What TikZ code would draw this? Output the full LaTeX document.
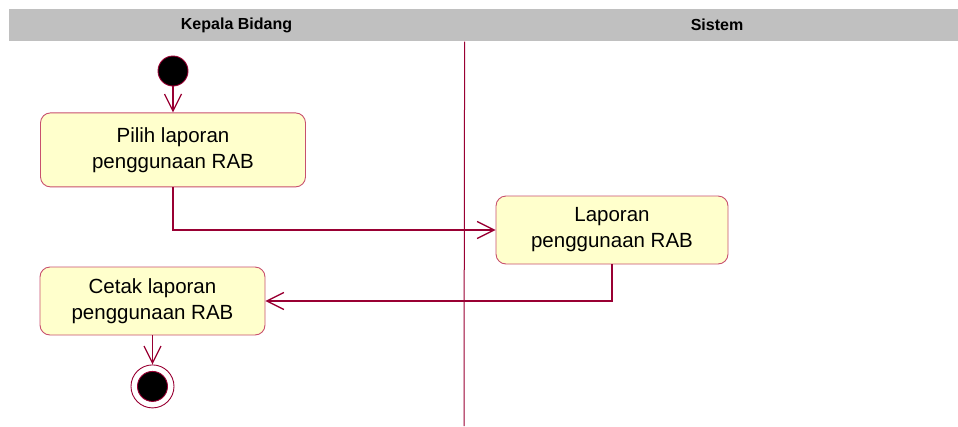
\documentclass[tikz,border=0pt]{standalone}
\usepackage{fontspec}
\setmainfont{Liberation Sans}
\usetikzlibrary{arrows.meta, positioning}
\definecolor{cline}{HTML}{990033}
\definecolor{cedge}{HTML}{C8506E}
\definecolor{cfill}{HTML}{FFFFCC}
\definecolor{cband}{HTML}{C0C0C0}
\tikzset{
  every picture/.style={x=1pt, y=-1pt, line width=1.2pt},
  lane/.style={fill=cband, minimum height=32pt, inner sep=0pt, font=\fontsize{16}{19}\selectfont\bfseries},
  act/.style={draw=cedge, fill=cfill, rounded corners=10pt, align=center, inner sep=0pt, line width=0.9pt, font=\fontsize{20.5}{26}\selectfont},
  flow/.style={-{Straight Barb[length=17pt, width=17pt]}, draw=cline, line width=1.3pt},
  startdot/.style={circle, fill=black, draw=cline, line width=0.9pt, minimum size=30pt, inner sep=0pt},
  enddot/.style={circle, draw=cline, fill=white, line width=0.9pt, minimum size=43pt, inner sep=0pt},
}

\begin{document}
\begin{tikzpicture}
  \useasboundingbox (0,0) rectangle (958,426);
  \node[lane, minimum width=455pt] (kepala) at (236.5,25) {Kepala Bidang};
  \node[lane, minimum width=506pt] (sistem) at (717,25) {Sistem};
  \draw[cline, line width=1pt] (kepala.south east) -- (464,426);
  \node[startdot] (start) at (173,71) {};
  \node[act, minimum width=265pt, minimum height=74pt, below=26pt of start] (pilih) {Pilih laporan\\penggunaan RAB};
  \node[act, minimum width=232pt, minimum height=68pt] (laporan) at (612,230) {Laporan\\penggunaan RAB};
  \node[act, minimum width=225pt, minimum height=68pt] (cetak) at (152.5,301) {Cetak laporan\\penggunaan RAB};
  \node[enddot, below=29pt of cetak] (end) {};
  \node[startdot] (stop) at (end) {};
  \draw[flow] (start) -- (pilih);
  \draw[flow] (pilih.south) |- (laporan.west);
  \draw[flow] (laporan.south) |- (cetak.east);
  \draw[flow] (cetak) -- (end);
\end{tikzpicture}
\end{document}
